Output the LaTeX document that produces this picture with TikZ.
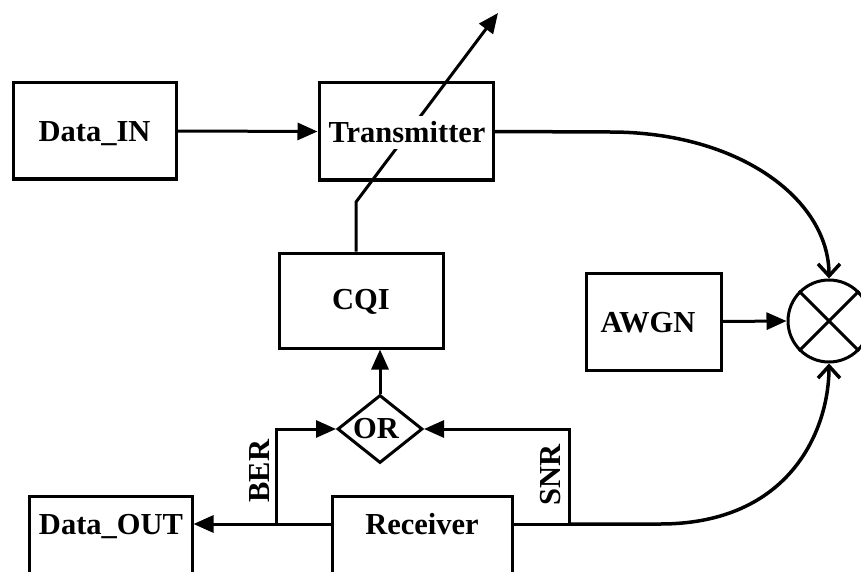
\documentclass[tikz,border=0pt]{standalone}
\usepackage{fontspec}
\setmainfont{Liberation Serif}
\usetikzlibrary{arrows.meta,shapes.geometric}
\begin{document}
\begin{tikzpicture}[x=1pt,y=-1pt,
  box/.style={draw,line width=3pt,inner sep=0pt},
  lbl/.style={font=\fontsize{30.5}{36}\selectfont\bfseries,inner sep=0pt},
  blbl/.style={lbl,anchor=base},
  conn/.style={line width=3pt},
  arr/.style={conn,-{Triangle[length=20pt,width=17pt]}},
  barb/.style={line width=3.5pt,-{Straight Barb[length=12pt,width=22pt]}}]
\useasboundingbox (0,0) rectangle (861,572);
\clip (0,0) rectangle (861,572);
% boxes
\node[box,minimum width=163pt,minimum height=96pt] (din) at (94.5,131) {};
\node[blbl] at (94.5,142) {Data\_IN};
\node[box,minimum width=174pt,minimum height=97pt] (tx) at (406,131.5) {};
\node[box,minimum width=164pt,minimum height=95pt] (cqi) at (361,300.5) {};
\node[blbl] at (361,309) {CQI};
\node[box,minimum width=135pt,minimum height=97pt] (awgn) at (653.5,321.5) {};
\node[blbl] at (648,332) {AWGN};
\node[box,minimum width=180pt,minimum height=120pt,anchor=north] (rx) at (422,495) {};
\node[blbl] (rxl) at (422,534) {Receiver};
\node[box,minimum width=163pt,minimum height=120pt,anchor=north] (dout) at (110.5,495) {};
\node[blbl] at (111,534) {Data\_OUT};
\node[draw,diamond,line width=3pt,minimum width=85pt,minimum height=68pt,inner sep=0pt] (or) at (380,429) {};
\node[blbl] at (376,438) {OR};
\node[draw,circle,line width=3pt,minimum size=82pt,inner sep=0pt] (mix) at (829,321) {};
\draw[conn] (mix.45) -- (mix.225);
\draw[conn] (mix.135) -- (mix.-45);
% connectors
\draw[arr] (din.east) -- (tx.west);
\coordinate (bend) at (356,202);
\coordinate (tip) at (498,13);
\draw[arr] (bend |- cqi.north) -- (bend) -- (tip);
\node[blbl,fill=white,inner xsep=2pt,inner ysep=6pt] (txl) at (407,143) {Transmitter};
\draw[arr] (or.north) -- (or.north |- cqi.south);
\coordinate (berb) at (276,524);
\coordinate (snrb) at (569,524);
\coordinate (rxw) at (332,524);
\coordinate (rxe) at (512,524);
\draw[arr] (rxw) -- (rxw -| dout.east);
\draw[arr] (berb) |- (or.west);
\draw[conn] (rxe) -- (snrb);
\draw[arr] (snrb) |- (or.east);
\node[lbl,rotate=90] at (260,471) {BER};
\node[lbl,rotate=90] at (551,475) {SNR};
\draw[arr] (awgn.east) -- (mix.west);
\draw[barb] (tx.east) -- (610,132) .. controls (740,132) and (829,200) .. (mix.north);
\draw[barb] (snrb) -- (660,524) .. controls (790,524) and (829,430) .. (mix.south);
\end{tikzpicture}
\end{document}
